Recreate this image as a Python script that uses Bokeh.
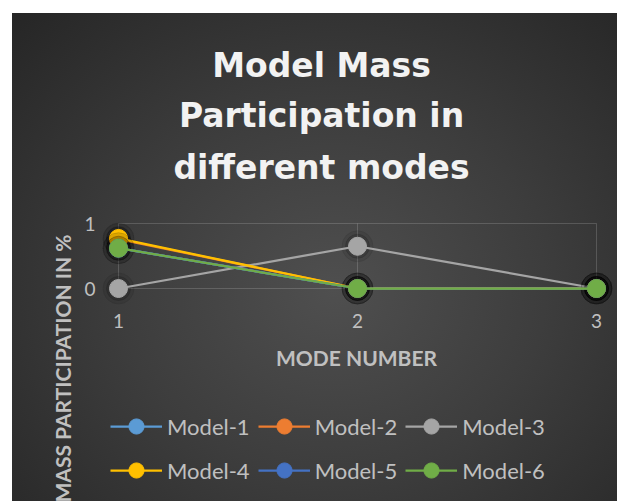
import math
from bokeh.plotting import figure
from bokeh.models import Range1d, FixedTicker, Label, Legend, LegendItem
from bokeh.embed import file_html
from bokeh.resources import INLINE

# ---- data ----
modes = [1, 2, 3]
mode_labels = ["1", "2", "3"]
series_names = ["Model-1", "Model-2", "Model-3", "Model-4", "Model-5", "Model-6"]
model_1 = [0.62, 0.0, 0.0]
model_2 = [0.76, 0.0, 0.0]
model_3 = [0.0, 0.65, 0.0]
model_4 = [0.77, 0.0, 0.0]
model_5 = [0.62, 0.0, 0.0]
model_6 = [0.62, 0.0, 0.0]
y_ticks = [0, 1]
colors = ["#5B9BD5", "#ED7D31", "#A5A5A5", "#FFC000", "#4472C4", "#70AD47"]
series = [model_1, model_2, model_3, model_4, model_5, model_6]

title_lines = ["Model Mass", "Participation in", "different modes"]
x_title = "MODE NUMBER"
y_title = "MASS PARTICIPATION IN %"

# ---- figure ----
FONT = "Lato"
TXT = "#c0c0c0"
W, H = 617, 501
PX_X0, PX_PER_X = 118, 239.0   # pixel of x=1, pixels per unit
PX_Y0, PX_PER_Y = 288, 65.0    # pixel of y=0, pixels per unit


def dx(px):
    return 1 + (px - PX_X0) / PX_PER_X


def dy(py):
    return (PX_Y0 - py) / PX_PER_Y


p = figure(width=W, height=H, output_backend="svg", toolbar_location=None,
           x_range=Range1d(dx(0), dx(W)), y_range=Range1d(dy(H), dy(0)),
           min_border=0)
p.background_fill_color = None
p.border_fill_color = None
p.outline_line_color = None
p.styles = {
    "background": "linear-gradient(#ffffff,#ffffff) 0 0/100% 13px no-repeat, "
                  "linear-gradient(#ffffff,#ffffff) 0 0/12px 100% no-repeat, "
                  "radial-gradient(ellipse at 54% 58%, #4f4f4f 0%, #3d3d3d 45%, #262626 95%)"
}
p.grid.visible = False

for ax in (p.xaxis[0], p.yaxis[0]):
    ax.axis_line_color = None
    ax.major_tick_line_color = None
    ax.minor_tick_line_color = None
    ax.major_tick_in = 0
    ax.major_tick_out = 0
    ax.major_label_text_font = FONT
    ax.major_label_text_font_size = "19px"
    ax.major_label_text_color = TXT

p.xaxis.fixed_location = y_ticks[0]
p.xaxis.ticker = FixedTicker(ticks=modes)
p.xaxis.major_label_overrides = {m: l for m, l in zip(modes, mode_labels)}
p.xaxis.major_label_standoff = 25

p.yaxis.fixed_location = modes[0]
p.yaxis.ticker = FixedTicker(ticks=y_ticks)
p.yaxis.major_label_standoff = 23

# grid (only over the data box)
grid_kw = dict(line_color="white", line_alpha=0.16, line_width=1)
p.segment(x0=modes, x1=modes, y0=[y_ticks[0]] * 3, y1=[y_ticks[-1]] * 3, **grid_kw)
p.segment(x0=[modes[0]] * 2, x1=[modes[-1]] * 2, y0=y_ticks, y1=y_ticks, **grid_kw)

items = []
for name, vals, c in zip(series_names, series, colors):
    p.scatter(modes, vals, size=31, color="black", alpha=0.07)
    p.scatter(modes, vals, size=24, color="black", alpha=0.12)
    lr = p.line(modes, vals, line_color=c, line_width=2.25, line_join="round")
    sr = p.scatter(modes, vals, size=18, fill_color=c, line_color=c)
    items.append(LegendItem(label=name, renderers=[lr, sr]))

for its, vy in [(items[:3], 56), (items[3:], 12)]:
    leg = Legend(items=its, orientation="horizontal", location=(110, vy),
                 glyph_width=52, glyph_height=38, label_standoff=5, spacing=8,
                 padding=0, margin=0, background_fill_alpha=0, border_line_color=None,
                 label_text_font=FONT, label_text_font_size="22px", label_text_color=TXT,
                 label_height=38)
    p.add_layout(leg)

for txt, base in zip(title_lines, [65, 115, 167]):
    p.add_layout(Label(x=dx(321), y=dy(base), text=txt, text_align="center",
                       text_baseline="alphabetic", text_font="DejaVu Sans",
                       text_font_style="bold", text_font_size="33px", text_color="#f2f2f2"))

p.add_layout(Label(x=dx(356), y=dy(357), text=x_title, text_align="center",
                   text_baseline="middle", text_font=FONT, text_font_style="bold",
                   text_font_size="21px", text_color=TXT))

p.add_layout(Label(x=dx(62), y=dy(234), text=y_title, angle=math.pi / 2,
                   text_align="right", text_baseline="middle", text_font=FONT,
                   text_font_style="bold", text_font_size="21px", text_color=TXT))

open("out.html", "w").write(file_html(p, INLINE))
